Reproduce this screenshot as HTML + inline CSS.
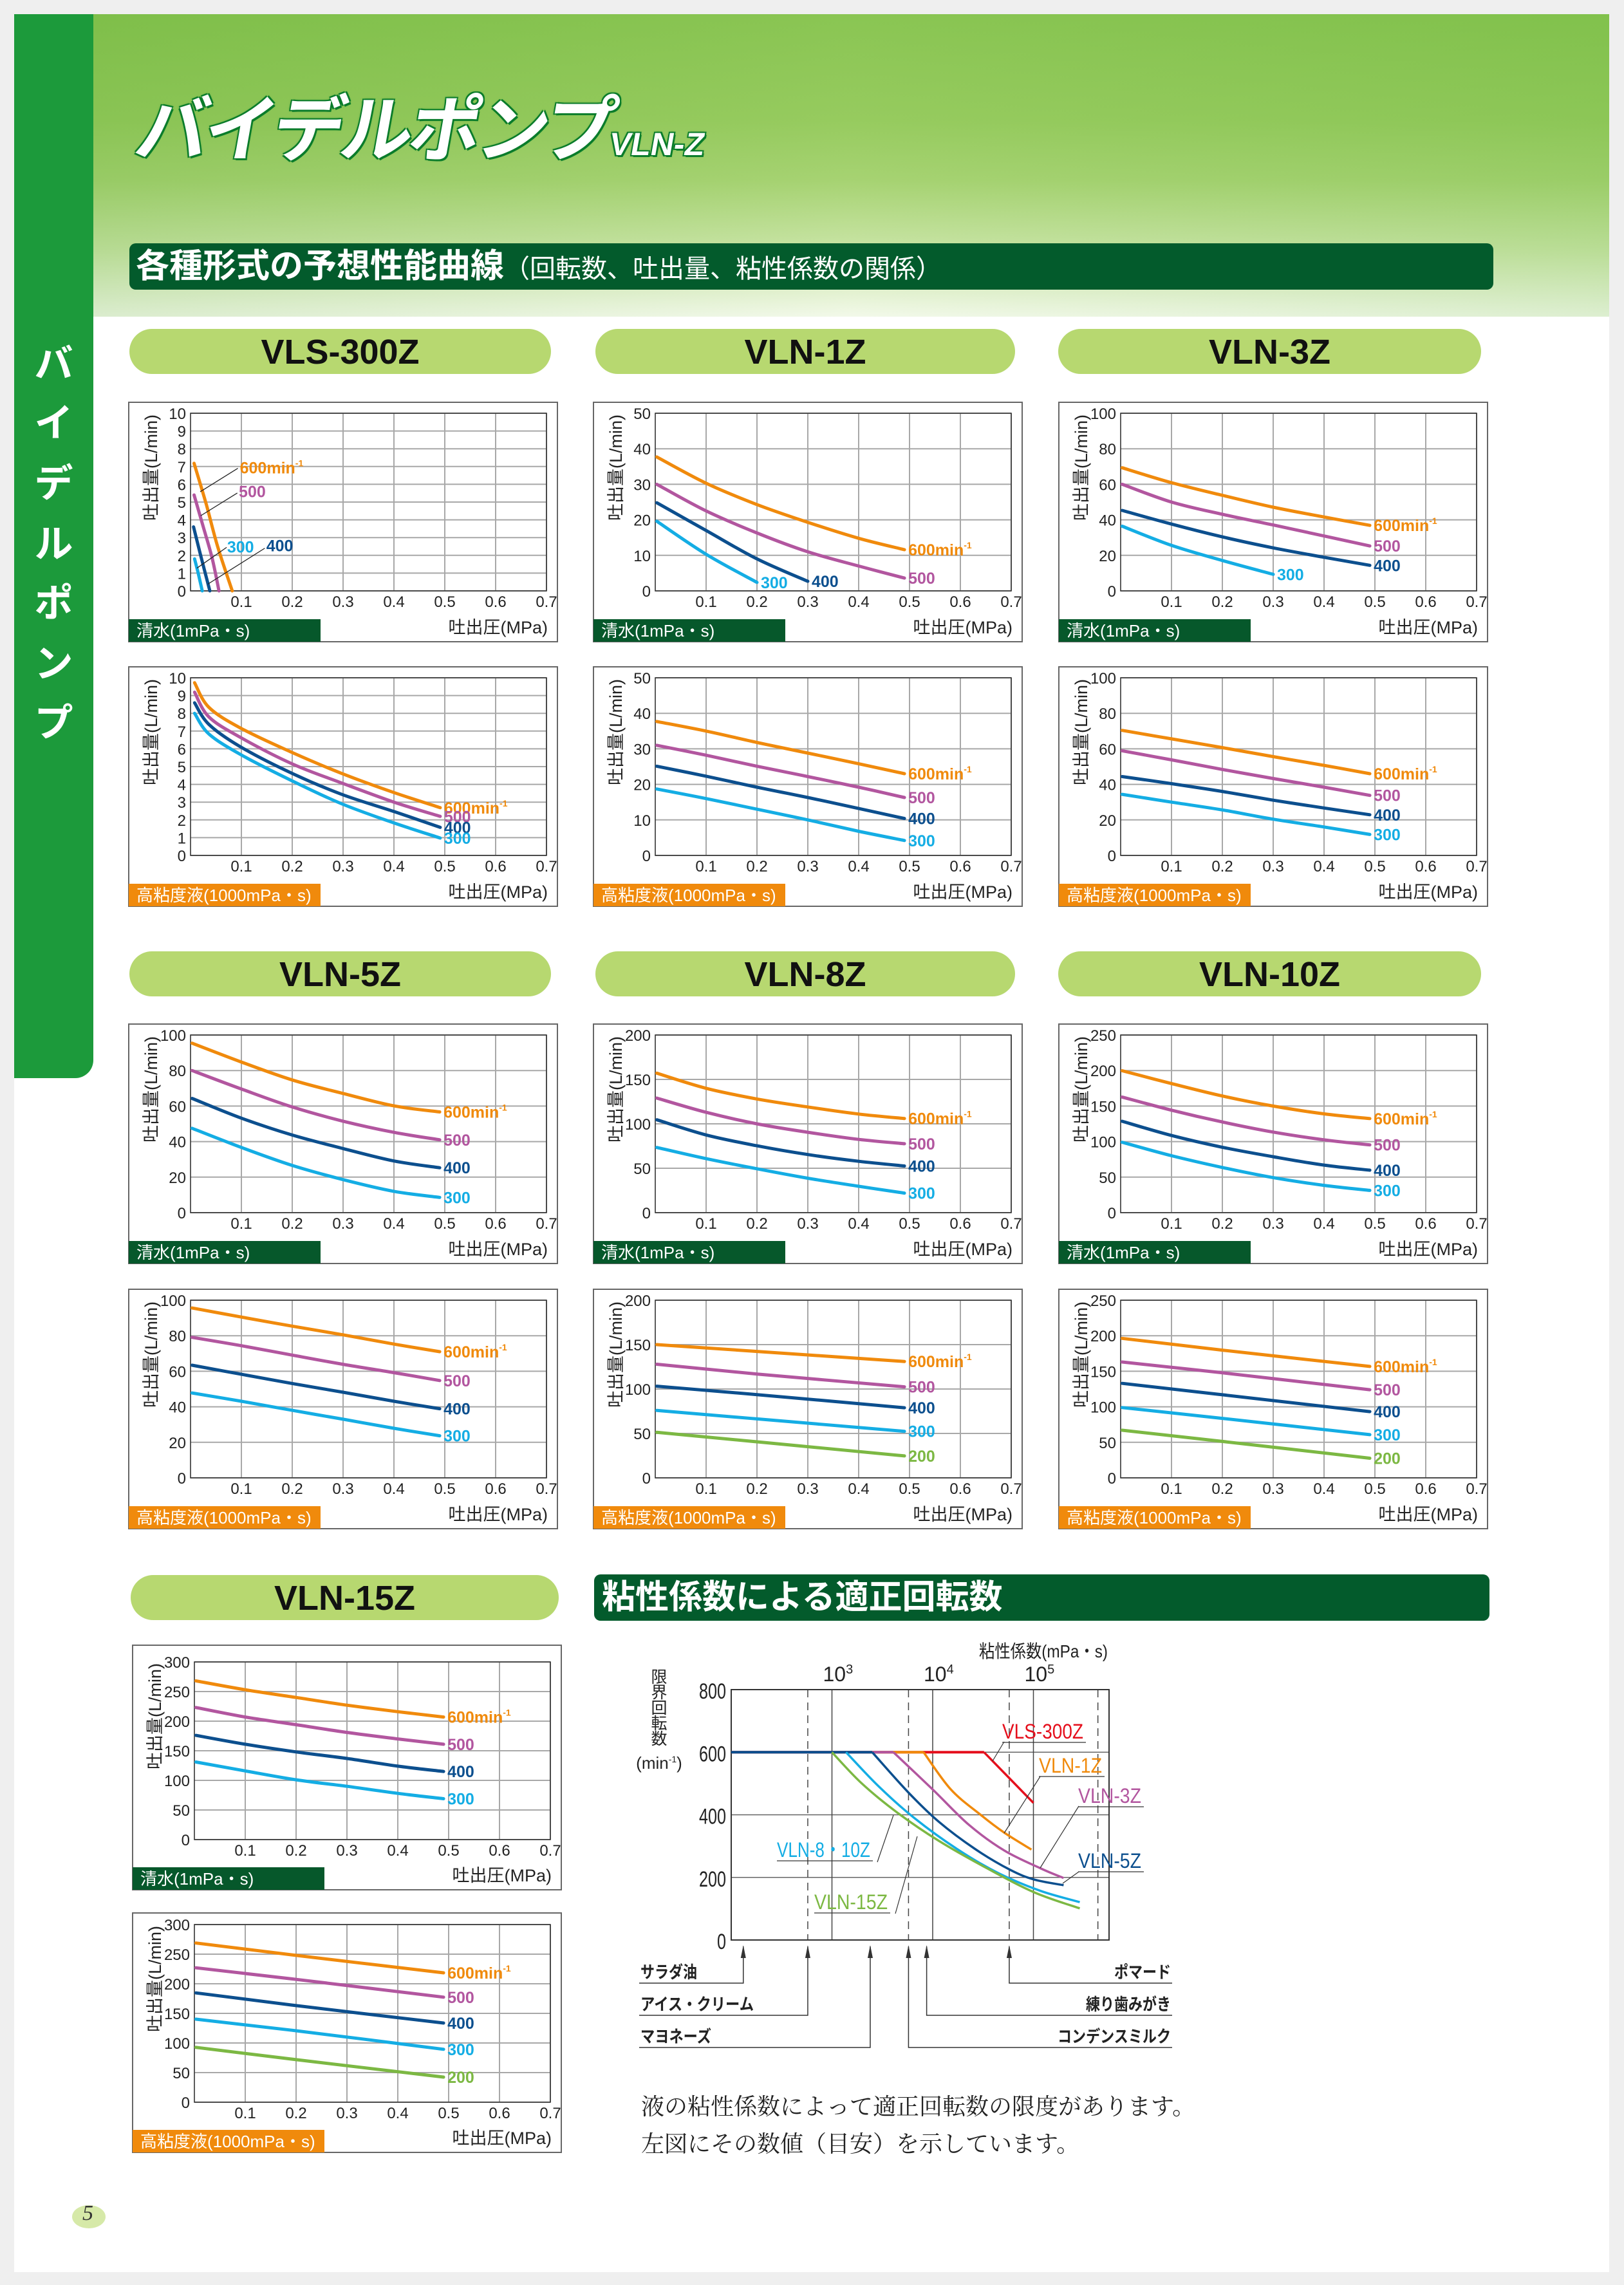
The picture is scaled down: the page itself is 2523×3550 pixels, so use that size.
<!DOCTYPE html>
<html lang="ja"><head><meta charset="utf-8"><title>バイデルポンプ VLN-Z</title>
<style>
html,body{margin:0;padding:0}
body{width:2523px;height:3550px;position:relative;overflow:hidden;background:#efefef;font-family:"Liberation Sans","Noto Sans CJK JP",sans-serif}
.abs{position:absolute}
#page{left:22px;top:22px;width:2478px;height:3508px;background:#fff}
#hdr{left:145px;top:22px;width:2355px;height:470px;background:linear-gradient(to bottom,#84c24e 0%,#93c95c 35%,#a6d273 55%,#cfe7b0 78%,#ffffff 100%)}
#hdr2{left:145px;top:22px;width:2355px;height:470px;background:linear-gradient(to right,rgba(110,180,60,.25),rgba(170,215,110,.15) 50%,rgba(120,190,70,.25))}
#side{left:22px;top:22px;width:123px;height:1653px;background:#1c9a3b;border-bottom-right-radius:28px}
.sidech{position:absolute;left:0;width:123px;text-align:center;color:#fff;font-weight:bold;font-size:60px;line-height:60px}
.pill{position:absolute;height:70px;border-radius:35px;background:#b7d870;text-align:center;font-weight:bold;font-size:54px;line-height:72px;color:#111}
.bar{position:absolute;background:#035b2c;border-radius:10px;color:#fff;font-weight:bold}
.bar>span{position:absolute;top:0;height:72px;line-height:72px}
</style></head>
<body>
<div id="page" class="abs"></div>
<div id="hdr" class="abs"></div>
<div id="hdr2" class="abs"></div>
<div id="side" class="abs">
  <div class="sidech" style="top:514px">バ</div>
  <div class="sidech" style="top:606px">イ</div>
  <div class="sidech" style="top:700px">デ</div>
  <div class="sidech" style="top:794px">ル</div>
  <div class="sidech" style="top:886px">ポ</div>
  <div class="sidech" style="top:980px">ン</div>
  <div class="sidech" style="top:1072px">プ</div>
</div>
<div class="abs" style="left:200px;top:112px;font-size:112px;font-weight:bold;color:#fff;transform:skewX(-10deg);transform-origin:left bottom;letter-spacing:-6px;text-shadow:0 0 4px #0a7a2a,3px 3px 0 #0b7d2c,-2px -2px 0 #0b7d2c,2px -2px 0 #0b7d2c,-2px 2px 0 #0b7d2c;white-space:nowrap">バイデルポンプ<span style="font-size:50px;letter-spacing:0">VLN-Z</span></div>
<div class="bar" style="left:201px;top:378px;width:2119px;height:72px">
  <span style="left:10px;font-size:52px;white-space:nowrap">各種形式の予想性能曲線<span style="font-size:40px;font-weight:normal">（回転数、吐出量、粘性係数の関係）</span></span>
</div>
<div class="pill" style="left:201px;top:511px;width:655px">VLS-300Z</div>
<div class="pill" style="left:925px;top:511px;width:652px">VLN-1Z</div>
<div class="pill" style="left:1644px;top:511px;width:657px">VLN-3Z</div>
<div class="pill" style="left:201px;top:1478px;width:655px">VLN-5Z</div>
<div class="pill" style="left:925px;top:1478px;width:652px">VLN-8Z</div>
<div class="pill" style="left:1644px;top:1478px;width:657px">VLN-10Z</div>
<div class="pill" style="left:203px;top:2447px;width:665px">VLN-15Z</div>
<div class="bar" style="left:923px;top:2446px;width:1391px;height:72px">
  <span style="left:12px;font-size:52px;white-space:nowrap">粘性係数による適正回転数</span>
</div>
<div class="abs" style="left:996px;top:3244px;font-family:'Liberation Serif','Noto Serif CJK SC',serif;font-size:36px;line-height:58px;color:#222;white-space:nowrap">液の粘性係数によって適正回転数の限度があります。<br>左図にその数値（目安）を示しています。</div>
<div class="abs" style="left:112px;top:3426px;width:52px;height:36px;border-radius:50%;background:#d6e9a8"></div>
<div class="abs" style="left:128px;top:3420px;font-family:'Liberation Serif',serif;font-style:italic;font-size:34px;color:#333">5</div>

<svg id="charts" class="abs" style="left:0;top:0" width="2523" height="3550" xmlns="http://www.w3.org/2000/svg"></svg>

<script>
// ---------- data ----------
const pressureTicks=[0.1,0.2,0.3,0.4,0.5,0.6,0.7];
const stdP=[0.003,0.1,0.2,0.3,0.4,0.49];
const triP=[0.003,0.2,0.49];
// VLS-300Z water
const vlsW_P600=[0.007,0.031,0.053,0.082]; const vlsW_Q600=[7.18,4.87,2.52,0];
const vlsW_P500=[0.007,0.025,0.042,0.056]; const vlsW_Q500=[5.4,3.6,1.9,0];
const vlsW_P400=[0.006,0.019,0.038]; const vlsW_Q400=[3.6,2.1,0];
const vlsW_P300=[0.008,0.015,0.023]; const vlsW_Q300=[1.8,1.0,0];
// VLS-300Z viscous
const vlsV_P=[0.008,0.036,0.099,0.201,0.298,0.4,0.491];
const vlsV_Q600=[9.72,8.34,7.16,5.78,4.61,3.54,2.69];
const vlsV_Q500=[9.19,7.8,6.63,5.14,4.07,3.0,2.2];
const vlsV_Q400=[8.59,7.38,6.1,4.6,3.43,2.47,1.58];
const vlsV_Q300=[8.0,6.84,5.67,4.18,2.9,1.83,0.98];
// VLN-1Z
const v1W_Q600=[37.7,30.3,24.3,19.3,14.8,11.6];
const v1W_Q500=[30,22.5,16.3,11,7,3.6];
const v1W_Q400=[24.8,17,9,2.7];
const v1W_Q300=[19.6,10.3,2.4];
const v1V_Q600=[37.7,35,31.8,28.8,25.8,23.0];
const v1V_Q500=[31,28.2,25.1,22.2,19.2,16.3];
const v1V_Q400=[25.1,22.3,19.2,16.3,13.2,10.4];
const v1V_Q300=[18.7,16,13,10,6.8,4.2];
// VLN-3Z
const v3W_Q600=[69.3,60.9,53.8,47.1,41.6,36.9];
const v3W_Q500=[60,50,43.1,37.1,30.9,25.3];
const v3W_Q400=[45.3,37.6,30.4,24.2,18.9,14.4];
const v3W_Q300=[36.4,25.6,17.1,9.3];
const v3V_Q600=[70.4,65.6,60.7,55.6,50.7,46];
const v3V_Q500=[58.9,53.8,48.4,43.3,38.4,33.8];
const v3V_Q400=[44.4,40.4,36,31.1,26.7,22.9];
const v3V_Q300=[34.4,30,25.6,20.4,16,11.8];
// VLN-5Z
const v5W_Q600=[95.4,84.8,74.7,67.1,60.1,56.7];
const v5W_Q500=[80,69.6,59.5,51.5,45.2,41];
const v5W_Q400=[64.3,53.2,43.7,36.1,29.1,25.3];
const v5W_Q300=[47.5,36.7,26.6,18.6,12,8.6];
const v5V_Q600=[95.6,90.5,85.4,80.5,75.3,71];
const v5V_Q500=[79.1,74.4,69.1,63.9,59.2,54.8];
const v5V_Q400=[63.4,58.3,53.1,48.2,43.1,38.9];
const v5V_Q300=[47.8,43.1,38,33,27.9,23.7];
// VLN-8Z
const v8W_Q600=[157,140,128,119,111,106];
const v8W_Q500=[129,113,100,90.5,82.5,77.6];
const v8W_Q400=[104.6,87.5,75.3,65.4,57.8,52.5];
const v8W_Q300=[73.4,60.8,49.4,38.8,29.7,22];
const v8V_Q600=[150,142.3,131];
const v8V_Q500=[127.9,116.9,102.5];
const v8V_Q400=[103.2,93.7,78.9];
const v8V_Q300=[75.9,66.4,52.4];
const v8V_Q200=[51.2,40.6,24.7];
// VLN-10Z
const v10W_Q600=[199.7,181.7,164.2,150,139,132.4];
const v10W_Q500=[162.7,144.2,127.6,113.4,102.5,95.4];
const v10W_Q400=[128.6,108.6,92,78.7,66.9,59.8];
const v10W_Q300=[99.1,80.2,63.6,49.3,38.4,31.3];
const v10V_Q600=[196.3,179.7,156.8];
const v10V_Q500=[163,147.8,124];
const v10V_Q400=[133,116.9,93.2];
const v10V_Q300=[98.9,83.7,60.8];
const v10V_Q200=[67,51.3,27.6];
// VLN-15Z
const v15W_Q600=[268,253,240,227,216,207];
const v15W_Q500=[223,207,194,181,170,161];
const v15W_Q400=[176,161,148,137,124,115];
const v15W_Q300=[131,116,101,90,78,69];
const v15V_Q600=[268.8,247.9,218.5];
const v15V_Q500=[227,207.4,177.4];
const v15V_Q400=[184.6,163.1,133.7];
const v15V_Q300=[140.2,120.7,89.4];
const v15V_Q200=[92.6,71.8,42.4];
// viscosity chart (log10 viscosity, rpm)
const viscTicksRpm=[0,200,400,600,800];
const viscDecades=[3,4,5];
const viscDashed=[2.76,3.76,4.76,5.64];
const limitVLS_U=[4.51,5.0]; const limitVLS_R=[600,438];
const limit1_U=[3.91,4.18,4.48,4.71,4.98]; const limit1_R=[600,481,399,343,289];
const limit3_U=[3.61,4.0,4.36,4.71,5.07,5.30]; const limit3_R=[600,481,368,286,229,198];
const limit5_U=[3.40,3.76,4.06,4.42,4.77,5.01,5.30]; const limit5_R=[600,471,378,291,224,193,175];
const limit810_U=[3.14,3.46,3.82,4.24,4.65,5.07,5.46]; const limit810_R=[600,492,389,291,214,157,121];
const limit15_U=[3.0,3.29,3.64,4.06,4.54,5.01,5.46]; const limit15_R=[600,502,409,317,229,152,101];
const fluidLeftNames=['サラダ油','アイス・クリーム','マヨネーズ'];
const fluidLeftU=[2.12,2.76,3.38];
const fluidRightNames=['ポマード','練り歯みがき','コンデンスミルク'];
const fluidRightU=[4.76,3.94,3.76];

// ---------- drawing ----------
const NS='http://www.w3.org/2000/svg';
const svg=document.getElementById('charts');
function mk(tag,attrs,parent){const e=document.createElementNS(NS,tag);for(const k in attrs)e.setAttribute(k,attrs[k]);(parent||svg).appendChild(e);return e;}
const COLORS={600:'#f08a0c',500:'#b2569f',400:'#0c4f8e',300:'#14ade4',200:'#7cb843'};
const FONT='"Liberation Sans","Noto Sans CJK JP",sans-serif';
function smooth(pts){
  let d='M'+pts[0][0].toFixed(1)+','+pts[0][1].toFixed(1);
  for(let i=0;i<pts.length-1;i++){
    const p0=pts[i-1]||pts[i],p1=pts[i],p2=pts[i+1],p3=pts[i+2]||p2;
    const c1=[p1[0]+(p2[0]-p0[0])/6,p1[1]+(p2[1]-p0[1])/6];
    const c2=[p2[0]-(p3[0]-p1[0])/6,p2[1]-(p3[1]-p1[1])/6];
    d+=' C'+c1[0].toFixed(1)+','+c1[1].toFixed(1)+' '+c2[0].toFixed(1)+','+c2[1].toFixed(1)+' '+p2[0].toFixed(1)+','+p2[1].toFixed(1);
  }
  return d;
}
function speedLabel(g,x,y,spd){
  const t=mk('text',{x:x,y:y+9,'font-size':25,'font-weight':'bold',fill:COLORS[spd],'font-family':FONT},g);
  
  
  t.textContent=String(spd);
  if(spd===600){
    t.textContent='600min';
    const s=mk('tspan',{'font-size':14,dy:-11},t);
    
    
    s.textContent='-1';
  }
}
function perfChart(c){
  const g=mk('g',{});
  
  
  const bw=666,bh=c.bh||372,pl=c.bx+96,pt=c.by+(c.pt||17),pw=553,ph=276;
  const X=v=>pl+v/0.7*pw, Y=v=>pt+ph-v/c.ymax*ph;
  const box=mk('rect',{x:c.bx,y:c.by,width:bw,height:bh,fill:'#fff',stroke:'#666','stroke-width':2},g);
  
  
  for(const t of pressureTicks){
    const l=mk('line',{x1:X(t),x2:X(t),y1:pt,y2:pt+ph,stroke:'#a8a8a8','stroke-width':2},g);
    
    
    const tx=mk('text',{x:X(t),y:pt+ph+25,'font-size':24,'text-anchor':'middle',fill:'#222','font-family':FONT},g);
    
    
    tx.textContent=t.toFixed(1);
  }
  for(let v=0;v<=c.ymax+1e-9;v+=c.ystep){
    const l=mk('line',{x1:pl,x2:pl+pw,y1:Y(v),y2:Y(v),stroke:'#a8a8a8','stroke-width':2},g);
    
    
    const ty=mk('text',{x:pl-7,y:Y(v)+9,'font-size':24,'text-anchor':'end',fill:'#222','font-family':FONT},g);
    
    
    ty.textContent=String(Math.round(v));
  }
  const pb=mk('rect',{x:pl,y:pt,width:pw,height:ph,fill:'none',stroke:'#333','stroke-width':1.6},g);
  
  
  const yt=mk('text',{x:0,y:0,'font-size':27,'text-anchor':'end',fill:'#222','font-family':FONT,transform:'translate('+(c.bx+44)+','+(pt+2)+') rotate(-90)'},g);
  
  
  yt.textContent='吐出量(L/min)';
  const xt=mk('text',{x:pl+pw+2,y:c.by+bh-13,'font-size':27,'text-anchor':'end',fill:'#222','font-family':FONT},g);
  
  
  xt.textContent='吐出圧(MPa)';
  const water=c.kind==='water';
  const st=mk('rect',{x:c.bx,y:c.by+bh-35,width:298,height:35,fill:water?'#06582b':'#f08a0c'},g);
  
  
  const stt=mk('text',{x:c.bx+12,y:c.by+bh-8,'font-size':26,fill:'#fff','font-family':FONT},g);
  
  
  stt.textContent=water?'清水(1mPa・s)':'高粘度液(1000mPa・s)';
  for(const s of c.series){
    const [spd,P,Q]=s;
    const pts=Q.map((q,i)=>[X(P[i]),Y(q)]);
    const p=mk('path',{d:smooth(pts),fill:'none',stroke:COLORS[spd],'stroke-width':5,'stroke-linecap':'round'},g);
    
    
    if(!c.custom){const e=pts[pts.length-1];speedLabel(g,e[0]+6,e[1],spd);}
  }
  if(c.custom){
    for(const lb of c.custom){
      const ln=mk('line',{x1:X(lb.from[0]),y1:Y(lb.from[1]),x2:X(lb.to[0]),y2:Y(lb.to[1]),stroke:'#222','stroke-width':1.3},g);
      
      
      speedLabel(g,X(lb.at[0]),Y(lb.at[1]),lb.spd);
    }
  }
}
const cols=[200,922,1645];
perfChart({name:'chart-vls-300z-water',bx:cols[0],by:625,ymax:10,ystep:1,kind:'water',
  series:[[600,vlsW_P600,vlsW_Q600],[500,vlsW_P500,vlsW_Q500],[400,vlsW_P400,vlsW_Q400],[300,vlsW_P300,vlsW_Q300]],
  custom:[{spd:600,at:[0.097,6.94],from:[0.019,5.58],to:[0.093,6.9]},{spd:500,at:[0.095,5.6],from:[0.02,4.23],to:[0.092,5.51]},
          {spd:300,at:[0.072,2.48],from:[0.0125,1.28],to:[0.071,2.45]},{spd:400,at:[0.149,2.56],from:[0.034,0.38],to:[0.146,2.4]}]});
perfChart({name:'chart-vls-300z-viscous',bx:cols[0],by:1036,ymax:10,ystep:1,kind:'visc',
  series:[[600,vlsV_P,vlsV_Q600],[500,vlsV_P,vlsV_Q500],[400,vlsV_P,vlsV_Q400],[300,vlsV_P,vlsV_Q300]]});
perfChart({name:'chart-vln-1z-water',bx:cols[1],by:625,ymax:50,ystep:10,kind:'water',
  series:[[600,stdP,v1W_Q600],[500,stdP,v1W_Q500],[400,stdP,v1W_Q400],[300,stdP,v1W_Q300]]});
perfChart({name:'chart-vln-1z-viscous',bx:cols[1],by:1036,ymax:50,ystep:10,kind:'visc',
  series:[[600,stdP,v1V_Q600],[500,stdP,v1V_Q500],[400,stdP,v1V_Q400],[300,stdP,v1V_Q300]]});
perfChart({name:'chart-vln-3z-water',bx:cols[2],by:625,ymax:100,ystep:20,kind:'water',
  series:[[600,stdP,v3W_Q600],[500,stdP,v3W_Q500],[400,stdP,v3W_Q400],[300,stdP,v3W_Q300]]});
perfChart({name:'chart-vln-3z-viscous',bx:cols[2],by:1036,ymax:100,ystep:20,kind:'visc',
  series:[[600,stdP,v3V_Q600],[500,stdP,v3V_Q500],[400,stdP,v3V_Q400],[300,stdP,v3V_Q300]]});
perfChart({name:'chart-vln-5z-water',bx:cols[0],by:1591,ymax:100,ystep:20,kind:'water',
  series:[[600,stdP,v5W_Q600],[500,stdP,v5W_Q500],[400,stdP,v5W_Q400],[300,stdP,v5W_Q300]]});
perfChart({name:'chart-vln-5z-viscous',bx:cols[0],by:2003,ymax:100,ystep:20,kind:'visc',
  series:[[600,stdP,v5V_Q600],[500,stdP,v5V_Q500],[400,stdP,v5V_Q400],[300,stdP,v5V_Q300]]});
perfChart({name:'chart-vln-8z-water',bx:cols[1],by:1591,ymax:200,ystep:50,kind:'water',
  series:[[600,stdP,v8W_Q600],[500,stdP,v8W_Q500],[400,stdP,v8W_Q400],[300,stdP,v8W_Q300]]});
perfChart({name:'chart-vln-8z-viscous',bx:cols[1],by:2003,ymax:200,ystep:50,kind:'visc',
  series:[[600,triP,v8V_Q600],[500,triP,v8V_Q500],[400,triP,v8V_Q400],[300,triP,v8V_Q300],[200,triP,v8V_Q200]]});
perfChart({name:'chart-vln-10z-water',bx:cols[2],by:1591,ymax:250,ystep:50,kind:'water',
  series:[[600,stdP,v10W_Q600],[500,stdP,v10W_Q500],[400,stdP,v10W_Q400],[300,stdP,v10W_Q300]]});
perfChart({name:'chart-vln-10z-viscous',bx:cols[2],by:2003,ymax:250,ystep:50,kind:'visc',
  series:[[600,triP,v10V_Q600],[500,triP,v10V_Q500],[400,triP,v10V_Q400],[300,triP,v10V_Q300],[200,triP,v10V_Q200]]});
perfChart({name:'chart-vln-15z-water',bx:206,by:2556,bh:380,pt:26,ymax:300,ystep:50,kind:'water',
  series:[[600,stdP,v15W_Q600],[500,stdP,v15W_Q500],[400,stdP,v15W_Q400],[300,stdP,v15W_Q300]]});
perfChart({name:'chart-vln-15z-viscous',bx:206,by:2972,bh:372,pt:18,ymax:300,ystep:50,kind:'visc',
  series:[[600,triP,v15V_Q600],[500,triP,v15V_Q500],[400,triP,v15V_Q400],[300,triP,v15V_Q300],[200,triP,v15V_Q200]]});

// ---------- viscosity chart ----------
(function(){
  const g=mk('g',{});
  
  
  const L=1136,R=1723,T=2625,B=3014;
  const XU=u=>L+(u-2)*156.5, YR=r=>B-r*(B-T)/800;
  for(const r of viscTicksRpm){
    if(r>0&&r<800){const l=mk('line',{x1:L,x2:R,y1:YR(r),y2:YR(r),stroke:'#666','stroke-width':1.5},g);
      
      }
    const t=mk('text',{x:1128,y:YR(r)+14,'font-size':34,'text-anchor':'end',fill:'#222','font-family':FONT,textLength:String(r).length*14,lengthAdjust:'spacingAndGlyphs'},g);
    
    
    t.textContent=String(r);
  }
  for(const d of viscDecades){
    const l=mk('line',{x1:XU(d),x2:XU(d),y1:T,y2:B,stroke:'#444','stroke-width':1.5},g);
    
    
    const t=mk('text',{x:XU(d)-14,y:2612,'font-size':32,fill:'#222','font-family':FONT},g);
    
    
    t.textContent='10';
    const s=mk('tspan',{'font-size':20,dy:-12},t);
    
    
    s.textContent=String(d);
  }
  for(const u of viscDashed){
    const l=mk('line',{x1:XU(u),x2:XU(u),y1:T,y2:B,stroke:'#444','stroke-width':1.5,'stroke-dasharray':'12,8'},g);
    
    
  }
  const fr=mk('path',{d:'M'+L+','+T+' H'+R+' V'+B+' H'+L+' Z',fill:'none',stroke:'#333','stroke-width':2},g);
  
  
  const curves=[['vls-300z','#e50f1c',limitVLS_U,limitVLS_R,true],['vln-1z','#f08a0c',limit1_U,limit1_R,true],
    ['vln-3z','#b2569f',limit3_U,limit3_R,true],['vln-5z','#0c4f8e',limit5_U,limit5_R,true],
    ['vln-8-10z','#14ade4',limit810_U,limit810_R,false],['vln-15z','#7cb843',limit15_U,limit15_R,false]];
  for(const [nm,col,U,Rr,flat] of curves){
    const pts=U.map((u,i)=>[XU(u),YR(Rr[i])]);
    if(flat){const h=mk('line',{x1:L,x2:pts[0][0],y1:pts[0][1],y2:pts[0][1],stroke:col,'stroke-width':4},g);
      
      }
    const p=mk('path',{d:smooth(pts),fill:'none',stroke:col,'stroke-width':3.5},g);
    
    
  }
  const labels=[['VLS-300Z','#e50f1c',1557,2701,126,[1560,2706,1542,2736]],['VLN-1Z','#f08a0c',1614,2754,98,[1616,2760,1560,2848]],
    ['VLN-3Z','#b2569f',1675,2801,98,[1676,2806,1616,2902]],['VLN-5Z','#0c4f8e',1675,2902,98,[1676,2908,1651,2926]],
    ['VLN-8・10Z','#14ade4',1207,2885,145,[1363,2893,1388,2820]],['VLN-15Z','#7cb843',1265,2966,114,[1391,2973,1425,2853]]];
  for(const [tx,col,x,y,w,ld] of labels){
    const t=mk('text',{x:x,y:y,'font-size':32,fill:col,'font-family':FONT,textLength:w,lengthAdjust:'spacingAndGlyphs'},g);
    
    
    t.textContent=tx;
    const ul=mk('polyline',{points:x+','+(y+6)+' '+(x+w+4)+','+(y+6)+' ',fill:'none',stroke:'#333','stroke-width':1.2},g);
    
    
    const le=mk('line',{x1:ld[0],y1:ld[1],x2:ld[2],y2:ld[3],stroke:'#333','stroke-width':1.2},g);
    
    
  }
  const xt=mk('text',{x:1521,y:2575,'font-size':28,fill:'#222','font-family':FONT,textLength:200,lengthAdjust:'spacingAndGlyphs'},g);
  
  
  xt.textContent='粘性係数(mPa・s)';
  const ych=['限','界','回','転','数'];
  ych.forEach((ch,i)=>{const t=mk('text',{x:1024,y:2614+i*24,'font-size':25,'text-anchor':'middle',fill:'#222','font-family':FONT},g);
    
    
    t.textContent=ch;});
  const ym=mk('text',{x:1024,y:2748,'font-size':26,'text-anchor':'middle',fill:'#222','font-family':FONT},g);
  
  
  ym.textContent='(min';
  const ys=mk('tspan',{'font-size':14,dy:-10},ym);
  
  
  ys.textContent='-1';
  const ye=mk('tspan',{dy:10},ym);
  
  
  ye.textContent=')';
  const rows=[3081,3131,3181];
  fluidLeftNames.forEach((nm,i)=>{
    const ax=XU(fluidLeftU[i]);
    const a=mk('polyline',{points:'993,'+rows[i]+' '+ax+','+rows[i]+' '+ax+',3024',fill:'none',stroke:'#333','stroke-width':1.5},g);
    
    
    const h=mk('path',{d:'M'+(ax-4)+',3042 L'+ax+',3022 L'+(ax+4)+',3042 Z',fill:'#333'},g);
    
    
    const t=mk('text',{x:995,y:rows[i]-8,'font-size':26,'font-weight':'bold',fill:'#222','font-family':FONT,textLength:nm.length*22,lengthAdjust:'spacingAndGlyphs'},g);
    
    
    t.textContent=nm;
  });
  fluidRightNames.forEach((nm,i)=>{
    const ax=XU(fluidRightU[i]);
    const a=mk('polyline',{points:'1821,'+rows[i]+' '+ax+','+rows[i]+' '+ax+',3024',fill:'none',stroke:'#333','stroke-width':1.5},g);
    
    
    const h=mk('path',{d:'M'+(ax-4)+',3042 L'+ax+',3022 L'+(ax+4)+',3042 Z',fill:'#333'},g);
    
    
    const t=mk('text',{x:1819,y:rows[i]-8,'font-size':26,'font-weight':'bold','text-anchor':'end',fill:'#222','font-family':FONT,textLength:nm.length*22,lengthAdjust:'spacingAndGlyphs'},g);
    
    
    t.textContent=nm;
  });
})();
</script>
</body></html>
